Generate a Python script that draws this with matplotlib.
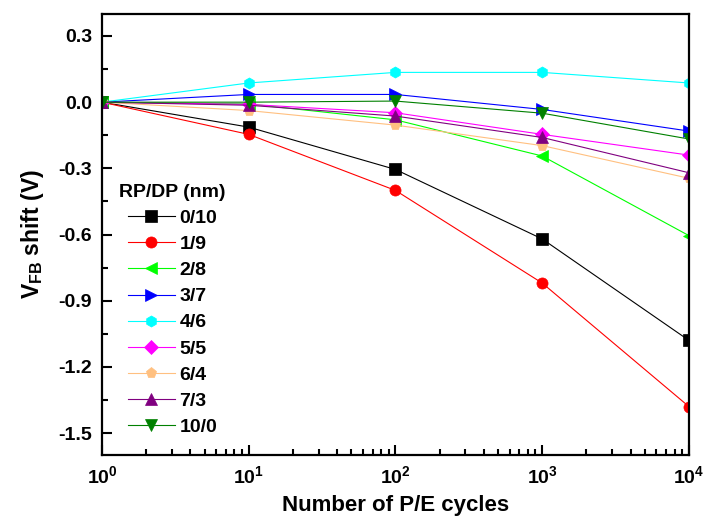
import numpy as np
import matplotlib
matplotlib.use("Agg")
import matplotlib.pyplot as plt
from matplotlib.ticker import MultipleLocator, LogLocator, NullFormatter

plt.rcParams["font.family"] = ["Liberation Sans", "DejaVu Sans"]
plt.rcParams["font.weight"] = "bold"
plt.rcParams["mathtext.fontset"] = "custom"
plt.rcParams["mathtext.rm"] = "Liberation Sans:bold"
plt.rcParams["mathtext.bf"] = "Liberation Sans:bold"
plt.rcParams["mathtext.it"] = "Liberation Sans:bold"

cycles = [1, 10, 100, 1000, 10000]

labels = ["0/10", "1/9", "2/8", "3/7", "4/6", "5/5", "6/4", "7/3", "10/0"]
s_0_10 = [0, -0.113, -0.305, -0.62, -1.08]
s_1_9 = [0, -0.146, -0.40, -0.82, -1.38]
s_2_8 = [0, -0.008, -0.08, -0.244, -0.605]
s_3_7 = [0, 0.035, 0.035, -0.033, -0.131]
s_4_6 = [0, 0.087, 0.135, 0.135, 0.087]
s_5_5 = [0, -0.01, -0.048, -0.146, -0.24]
s_6_4 = [0, -0.038, -0.104, -0.197, -0.345]
s_7_3 = [0, -0.014, -0.063, -0.16, -0.32]
s_10_0 = [0, 0.0, 0.005, -0.05, -0.167]

series = [s_0_10, s_1_9, s_2_8, s_3_7, s_4_6, s_5_5, s_6_4, s_7_3, s_10_0]
colors = ["black", "red", "#00ff00", "blue", "cyan", "magenta", "#ffc080", "#800080", "#008000"]
markers = ["s", "o", "<", ">", "h", "D", "p", "^", "v"]

fig = plt.figure(figsize=(7.03, 5.16), dpi=100)
ax = fig.add_axes([0.145, 0.118, 0.835, 0.855])

for lab, ys, c, m in zip(labels, series, colors, markers):
    ms = 7 if m == "D" else 8
    ax.plot(cycles, ys, color=c, marker=m, markersize=ms, linewidth=0.8,
            markeredgewidth=0.5, markeredgecolor=c, label=lab)

ax.set_xscale("log")
ax.set_xlim(1, 10000)
ax.set_ylim(-1.6, 0.4)
ax.xaxis.set_major_locator(LogLocator(base=10, numticks=10))
ax.xaxis.set_minor_locator(LogLocator(base=10, subs=np.arange(2, 10), numticks=20))
ax.xaxis.set_minor_formatter(NullFormatter())
ax.yaxis.set_major_locator(MultipleLocator(0.3))
ax.yaxis.set_minor_locator(MultipleLocator(0.15))
ax.yaxis.set_major_formatter(plt.FuncFormatter(lambda v, p: f"{v + 0.0:.1f}".replace("-0.0", "0.0")))

ax.tick_params(which="both", direction="in", top=False, right=False, width=1.5)
ax.tick_params(which="major", length=7, labelsize=14, pad=7)
ax.tick_params(which="minor", length=4)
for s in ax.spines.values():
    s.set_linewidth(1.6)

ax.set_xlabel("Number of P/E cycles", fontsize=16, fontweight="bold", labelpad=6)
ax.set_ylabel(r"$\mathrm{V}_{\mathrm{FB}}$ shift (V)", fontsize=16.5, fontweight="bold", labelpad=9)

leg = ax.legend(title="RP/DP (nm)", loc="upper left", bbox_to_anchor=(0.0, 0.655),
                frameon=False, fontsize=14, title_fontsize=14,
                handlelength=2.4, handletextpad=0.25, labelspacing=0.44)
leg.get_title().set_fontweight("bold")

fig.savefig("out.png", dpi=100)
